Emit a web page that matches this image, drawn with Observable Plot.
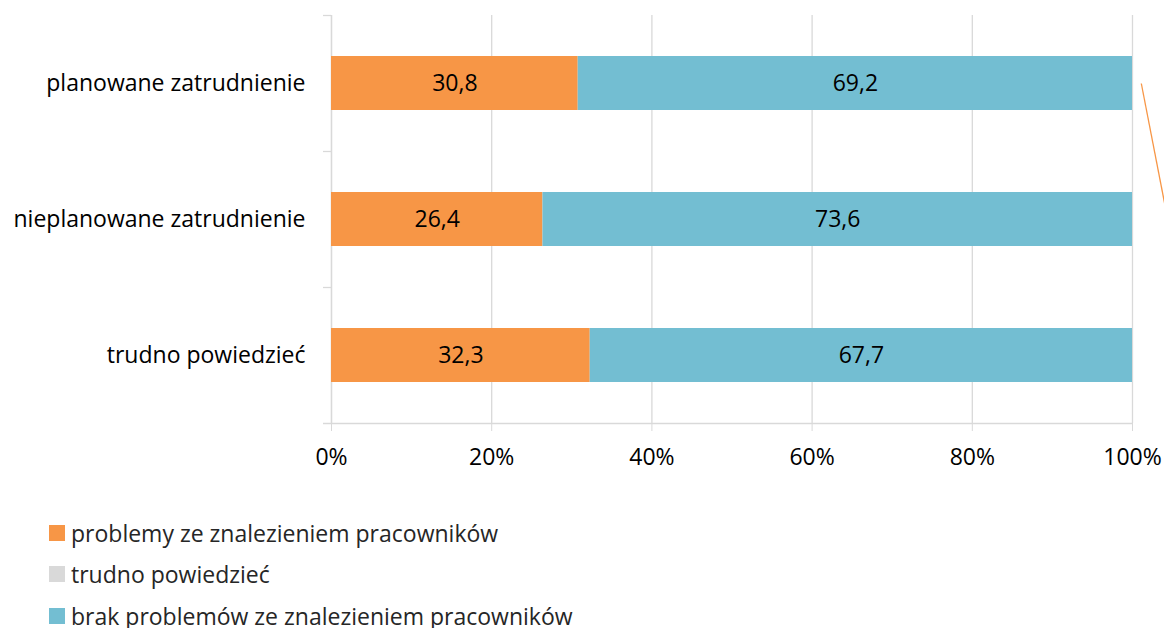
<!DOCTYPE html>
<html><head><meta charset="utf-8">
<script src="https://cdn.jsdelivr.net/npm/d3@7"></script>
<script src="https://cdn.jsdelivr.net/npm/@observablehq/plot@0.6"></script>
<style>
body{margin:0;background:#fff;font-family:"Open Sans",sans-serif;}
#legend{margin-left:49px;margin-top:32px;}
.item{display:flex;align-items:center;height:41.5px;font-size:23px;color:#262626;}
.sw{width:16px;height:16px;margin-right:6px;flex:none;}
</style>
</head><body>
<div id="chart"></div>
<div id="legend"></div>
<script>
const categories = ["planowane zatrudnienie", "nieplanowane zatrudnienie", "trudno powiedzieć"];
const seriesNames = ["problemy ze znalezieniem pracowników", "trudno powiedzieć", "brak problemów ze znalezieniem pracowników"];
const seriesColors = ["#F79646", "#D9D9D9", "#73BED2"];
const problemy = [30.8, 26.4, 32.3];
const trudno = [0, 0, 0];
const brak = [69.2, 73.6, 67.7];
const xTicks = [0, 20, 40, 60, 80, 100];
const leaderLine = [{x1: 101.1, x2: 104.4, from: "planowane zatrudnienie", to: "nieplanowane zatrudnienie"}];

const seriesValues = [problemy, trudno, brak];
const rows = [];
categories.forEach((c, i) => seriesNames.forEach((s, j) => rows.push({cat: c, series: s, value: seriesValues[j][i]})));
const fmt = v => v.toFixed(1).replace(".", ",");

const chart = Plot.plot({
  width: 1164, height: 480,
  marginLeft: 331, marginRight: 32, marginTop: 15, marginBottom: 57,
  style: {fontFamily: "'Open Sans', sans-serif", fontSize: "23px", color: "#000", background: "#fff", overflow: "visible"},
  x: {domain: [0, 100]},
  y: {domain: categories, paddingInner: 0.603, paddingOuter: 0.3015},
  color: {domain: seriesNames, range: seriesColors},
  marks: [
    Plot.gridX(xTicks, {stroke: "#d9d9d9", strokeOpacity: 1, strokeWidth: 1.3}),
    Plot.ruleX([0], {stroke: "#d9d9d9", strokeWidth: 1.3}),
    Plot.ruleY(categories, {y: d => d, dy: -68, x1: -1, x2: 0, stroke: "#d9d9d9", strokeWidth: 1.3}),
    Plot.ruleY(categories.slice(-1), {y: d => d, dy: 68, x1: -1, x2: 100, stroke: "#d9d9d9", strokeWidth: 1.3}),
    Plot.barX(rows, Plot.stackX({x: "value", y: "cat", fill: "series", order: seriesNames})),
    Plot.text(rows.filter(d => d.value > 0), Plot.stackX({x: "value", y: "cat", z: "series", order: seriesNames, text: d => fmt(d.value), fill: "#000", fontSize: 23})),
    Plot.link(leaderLine, {x1: "x1", x2: "x2", y1: "from", y2: "to", stroke: "#F79646", strokeWidth: 1.3}),
    Plot.axisX(xTicks, {tickSize: 8, tickPadding: 17, stroke: "#d9d9d9", fill: "#000", tickFormat: d => d + "%", label: null, fontSize: 23}),
    Plot.axisY({tickSize: 0, tickPadding: 26, label: null, fill: "#000", fontSize: 23})
  ]
});
document.getElementById("chart").append(chart);

const legend = document.getElementById("legend");
seriesNames.forEach((s, i) => {
  const it = document.createElement("div"); it.className = "item";
  const sw = document.createElement("span"); sw.className = "sw"; sw.style.background = seriesColors[i];
  const t = document.createElement("span"); t.textContent = s;
  it.append(sw, t); legend.append(it);
});
</script>
</body></html>
